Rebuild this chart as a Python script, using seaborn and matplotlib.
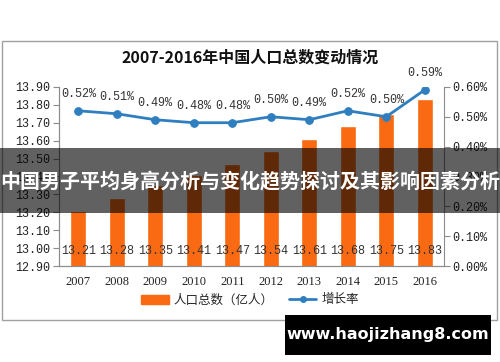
import numpy as np
import matplotlib
matplotlib.use('Agg')
import matplotlib.pyplot as plt
import seaborn as sns
from matplotlib.patches import Rectangle

years = ['2007', '2008', '2009', '2010', '2011', '2012', '2013', '2014', '2015', '2016']
population = [13.21, 13.28, 13.35, 13.41, 13.47, 13.54, 13.61, 13.68, 13.75, 13.83]  # 亿人
growth = [0.52, 0.51, 0.49, 0.48, 0.48, 0.50, 0.49, 0.52, 0.50, 0.59]  # %
left_ticks = [12.90, 13.00, 13.10, 13.20, 13.30, 13.40, 13.50, 13.60, 13.70, 13.80, 13.90]
right_ticks = [0.0, 0.1, 0.2, 0.3, 0.4, 0.5, 0.6]

title = '2007-2016年中国人口总数变动情况'
banner = '中国男子平均身高分析与变化趋势探讨及其影响因素分析'
site = 'www.haojizhang8.com'

sns.set_style('white')
plt.rcParams['font.family'] = ['Liberation Mono', 'Noto Sans CJK SC', 'DejaVu Sans']
cjk = ['Noto Sans CJK SC', 'DejaVu Sans']

orange = '#FA6A12'
blue = '#2F7FC0'
grey = '#8C8C8C'

fig = plt.figure(figsize=(5, 3.62), dpi=100)
ax = fig.add_axes([0.118, 0.265, 0.770, 0.495])

x = np.arange(len(years))
sns.barplot(x=x, y=population, color=orange, width=0.42, ax=ax, saturation=1)
ax.set_ylim(12.90, 13.90)
ax.set_xlim(-0.5, len(years) - 0.5)
ax.set_yticks(left_ticks)
ax.set_yticklabels([f'{v:.2f}' for v in left_ticks], fontsize=8.5, color='#222222')
ax.set_xticks(x)
ax.set_xticklabels(years, fontsize=9, color='#222222', family='Liberation Serif')
ax.set_xticks(np.arange(len(years) + 1) - 0.5, minor=True)
ax.tick_params(axis='x', which='major', length=0, pad=7)
ax.tick_params(axis='x', which='minor', length=5, color=grey, direction='out')
ax.tick_params(axis='y', length=4, color=grey, direction='out', left=True, pad=2)
for i, v in enumerate(population):
    ax.text(i, 12.985, f'{v:.2f}', ha='center', va='center', fontsize=8.5, color='#333333')

ax2 = ax.twinx()
sns.lineplot(x=x, y=growth, color=blue, marker='o', markersize=5.5, markeredgecolor=blue,
             linewidth=2, ax=ax2, legend=False)
ax2.set_ylim(0, 0.60)
ax2.set_yticks(right_ticks)
ax2.set_yticklabels([f'{v:.2f}%' for v in right_ticks], fontsize=8.5, color='#222222')
ax2.tick_params(axis='y', length=4, color=grey, direction='out', right=True, pad=2)
for i, v in enumerate(growth):
    ax2.annotate(f'{v:.2f}%', (i, v), xytext=(0, 12), textcoords='offset points',
                 ha='center', va='center', fontsize=8.5, color='#333333')

for a in (ax, ax2):
    a.spines['top'].set_visible(False)
    for s in ('left', 'right', 'bottom'):
        a.spines[s].set_color(grey)
        a.spines[s].set_linewidth(0.8)
ax.spines['right'].set_visible(False)

fig.text(0.5, 1 - 58 / 362, title, ha='center', va='center', fontsize=11.5,
         fontweight='bold', family=cjk, color='#111111')

# legend
h1 = Rectangle((0, 0), 1, 1, color=orange)
h2 = plt.Line2D([], [], color=blue, marker='o', markersize=4, linewidth=2)
leg = fig.legend([h1, h2], ['人口总数（亿人）', '增长率'], loc='center',
                 bbox_to_anchor=(0.5, 1 - 300 / 362), ncol=2, frameon=False,
                 prop={'family': cjk, 'size': 9}, handlelength=2.2, columnspacing=1.2,
                 handletextpad=0.4, borderpad=0.1)

# chart frame
fig.patches.append(Rectangle((2 / 500, 1 - 320 / 362), 495 / 500, 279 / 362,
                             transform=fig.transFigure, fill=False, edgecolor='#A0A0A0',
                             linewidth=1))

# dark banner with headline
fig.patches.append(Rectangle((0, 1 - 213 / 362), 1, 65 / 362, transform=fig.transFigure,
                             facecolor='black', alpha=0.62, edgecolor='none', zorder=10))
fig.text(0.5, 1 - 182 / 362, banner, ha='center', va='center', fontsize=14.4,
         fontweight='bold', family=cjk, color='white', zorder=11)

# site box
fig.patches.append(Rectangle((285 / 500, 1 - 355 / 362), 206 / 500, 40 / 362,
                             transform=fig.transFigure, facecolor='black', edgecolor='none',
                             zorder=10))
fig.text(388 / 500, 1 - 335 / 362, site, ha='center', va='center', fontsize=11.5,
         fontweight='bold', family='DejaVu Sans', color='white', zorder=11)

fig.savefig('out.png', dpi=100)
